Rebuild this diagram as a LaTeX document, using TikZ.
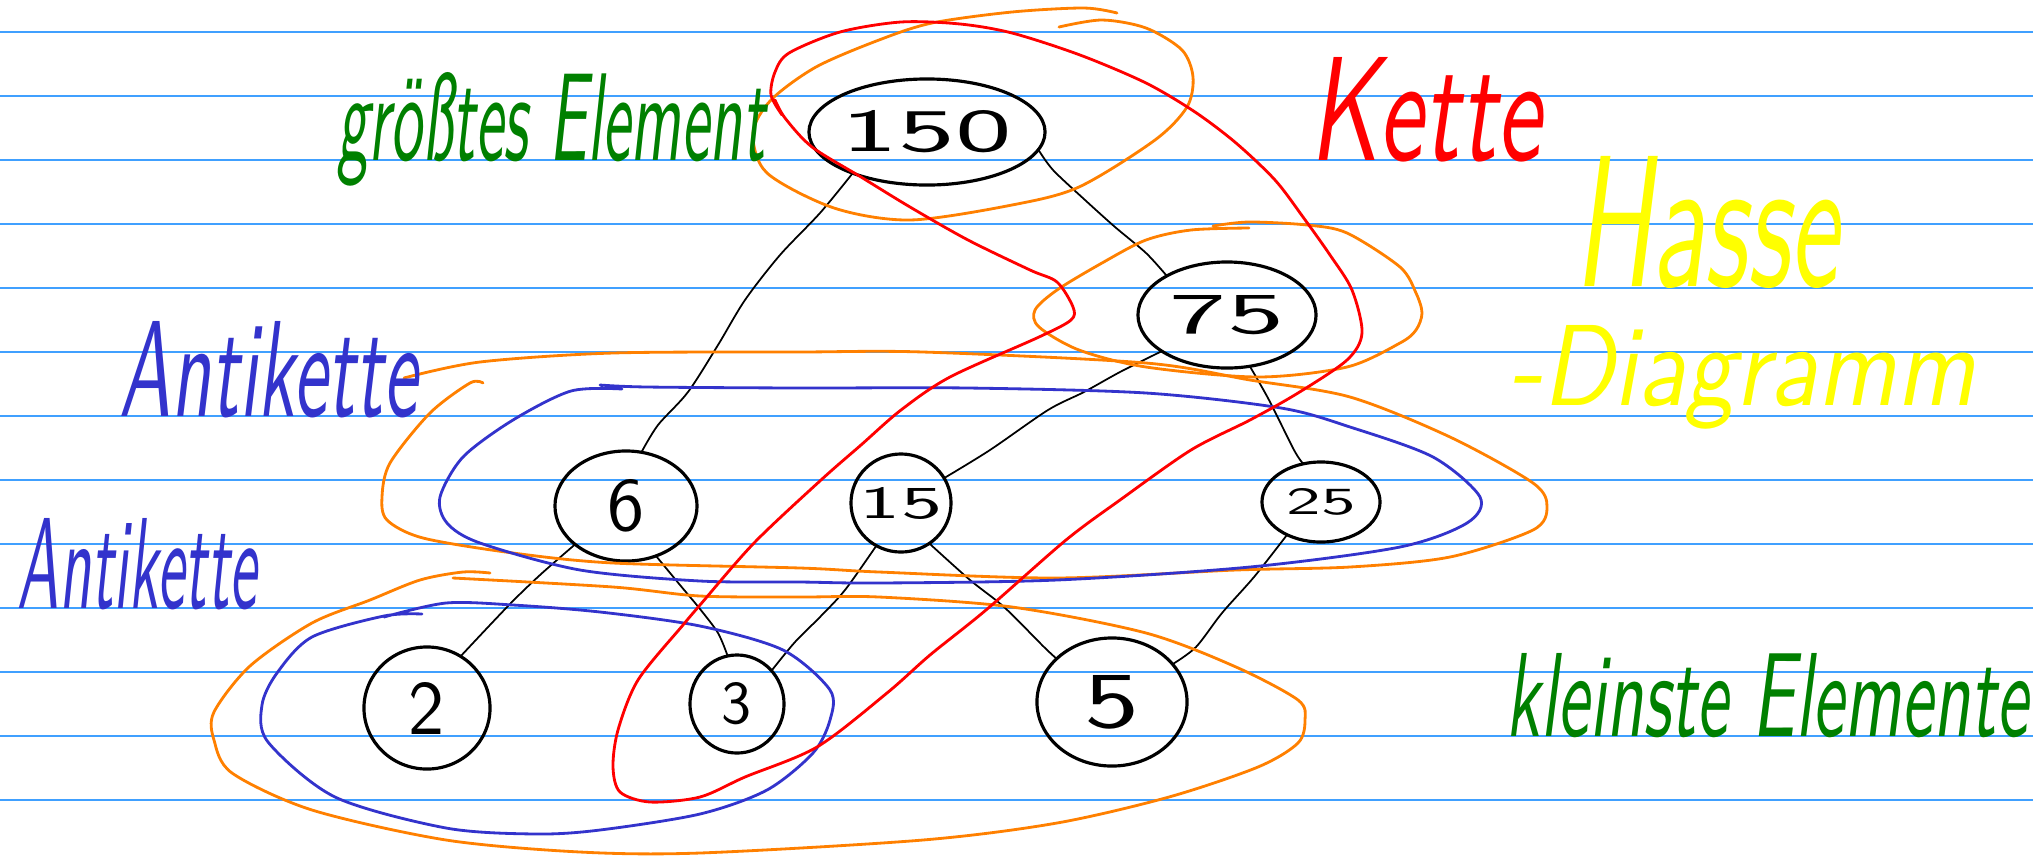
\documentclass[tikz,border=0pt]{standalone}
\usepackage{fontspec}
\usepackage{graphicx}
\usetikzlibrary{shapes.geometric}
\definecolor{rulecol}{RGB}{64,160,255}
\definecolor{inkblue}{RGB}{51,51,204}
\definecolor{inkgreen}{RGB}{0,128,0}
\definecolor{inkred}{RGB}{255,0,0}
\definecolor{inkorange}{RGB}{255,128,0}
\definecolor{inkyellow}{RGB}{255,255,0}
% handwritten-looking label stretched to a given width and height
\newcommand{\hw}[3]{\resizebox{#1}{#2}{\sffamily\slshape #3}}
% centred number inside a vertex, not widening the ellipse
\newcommand{\vnum}[3]{\makebox[0pt]{\resizebox{#1}{#2}{\sffamily #3}}}
\begin{document}
\begin{tikzpicture}[x=0.01cm,y=-0.01cm,
  rule/.style={rulecol, line width=0.5pt},
  vtx/.style={draw, ellipse, line width=0.9pt, inner sep=0pt, outer sep=0pt},
  edge/.style={line width=0.5pt, line cap=round},
  ink/.style={line width=0.8pt, line cap=round, line join=round},
  txt/.style={inner sep=0pt, outer sep=0pt, anchor=base west}]
\fill[white] (0,0) rectangle (2033,857);
\useasboundingbox (0,0) rectangle (2033,857);

% ruled paper
\foreach \k in {0,...,12} {
  \draw[rule] (0,{32.3+64*\k}) -- (2033,{32.3+64*\k});
}

% vertices of the Hasse diagram
\node[vtx, minimum width=2.36cm, minimum height=1.06cm] (n150) at (927,132) {\vnum{1.70cm}{0.41cm}{150}};
\node[vtx, minimum width=1.78cm, minimum height=1.06cm] (n75) at (1227,315) {\vnum{1.14cm}{0.38cm}{75}};
\node[vtx, minimum width=1.42cm, minimum height=1.10cm] (n6) at (626,506) {\vnum{0.37cm}{0.51cm}{6}};
\node[vtx, minimum width=1.00cm, minimum height=0.98cm] (n15) at (901,503) {\vnum{0.82cm}{0.31cm}{15}};
\node[vtx, minimum width=1.18cm, minimum height=0.80cm] (n25) at (1321,502) {\vnum{0.69cm}{0.26cm}{25}};
\node[vtx, minimum width=1.26cm, minimum height=1.22cm] (n2) at (427,708) {\vnum{0.36cm}{0.52cm}{2}};
\node[vtx, minimum width=0.94cm, minimum height=0.98cm] (n3) at (737,704) {\vnum{0.30cm}{0.41cm}{3}};
\node[vtx, minimum width=1.50cm, minimum height=1.28cm] (n5) at (1112,702) {\vnum{0.55cm}{0.52cm}{5}};

% cover relations
\draw[edge] plot[smooth] coordinates {(n150.209) (820,213) (780,255) (745,300) (718,345) (688,392) (658,425) (n6.74)};
\draw[edge] plot[smooth] coordinates {(n150.351) (1053,170) (1085,200) (1115,227) (1146,253) (n75.147)};
\draw[edge] plot[smooth] coordinates {(n75.209) (1120,372) (1084,392) (1048,410) (990,450) (n15.30)};
\draw[edge] plot[smooth] coordinates {(n75.294) (1269,400) (1294,450) (n25.115)};
\draw[edge] plot[smooth] coordinates {(n6.217) (540,575) (509,605) (n2.57)};
\draw[edge] plot[smooth] coordinates {(n6.301) (680,585) (700,609) (718,633) (n3.101)};
\draw[edge] plot[smooth] coordinates {(n15.240) (845,590) (820,617) (795,642) (n3.44)};
\draw[edge] plot[smooth] coordinates {(n15.305) (970,580) (1004,607) (1044,647) (n5.142)};
\draw[edge] plot[smooth] coordinates {(n25.224) (1254,577) (1222,613) (1196,647) (n5.32)};

% orange rings
\draw[ink, inkorange] plot[smooth] coordinates {(1059,27) (1102,20) (1146,28) (1182,50) (1193,77) (1187,107) (1155,140) (1079,187) (1012,205) (910,220) (834,208) (767,173) (753,133) (771,100) (816,67) (879,40) (932,23) (1012,12) (1084,8) (1117,13)};
\draw[ink, inkorange] plot[smooth] coordinates {(1249,228) (1191,230) (1146,240) (1102,263) (1057,290) (1035,310) (1039,327) (1079,350) (1146,367) (1258,377) (1347,367) (1400,343) (1416,330) (1422,313) (1416,293) (1400,267) (1347,233) (1307,225) (1249,222) (1213,226)};
\draw[ink, inkorange] plot[smooth] coordinates {(483,383) (470,383) (430,413) (390,463) (382,497) (387,520) (423,538) (513,553) (613,563) (800,568) (879,572) (1057,578) (1236,570) (1350,567) (1450,557) (1533,530) (1547,507) (1533,483) (1450,437) (1350,397) (1250,380) (1146,363) (923,352) (800,352) (613,353) (480,362) (404,378)};
\draw[ink, inkorange] plot[smooth] coordinates {(490,573) (463,572) (420,580) (370,600) (312,623) (250,666) (214,712) (214,740) (232,773) (312,810) (446,840) (580,852) (700,853) (923,840) (1057,823) (1169,797) (1258,767) (1298,743) (1305,720) (1298,700) (1236,667) (1146,633) (1012,607) (879,597) (800,597) (700,596) (613,587) (453,578)};

% blue rings
\draw[ink, inkblue] plot[smooth] coordinates {(600,385) (647,387) (800,388) (968,388) (1146,393) (1281,408) (1350,427) (1433,457) (1480,497) (1467,523) (1400,547) (1250,567) (1057,580) (879,583) (800,582) (700,581) (580,570) (480,543) (447,523) (440,497) (463,457) (513,420) (571,391) (622,389)};
\draw[ink, inkblue] plot[smooth] coordinates {(384,617) (446,603) (513,605) (600,612) (700,626) (783,650) (830,690) (830,720) (813,753) (767,790) (700,814) (600,830) (536,834) (446,828) (335,797) (268,742) (262,705) (277,673) (312,637) (384,616) (422,614)};

% red chain
\draw[ink, inkred] plot[smooth] coordinates {(782,115) (771,95) (775,72) (789,53) (840,32) (901,22) (960,24) (1012,33) (1080,55) (1146,83) (1195,112) (1236,143) (1275,180) (1303,217) (1330,255) (1352,290) (1362,333) (1347,360) (1298,393) (1250,420) (1191,450) (1120,500) (1066,540) (986,610) (930,655) (887,693) (817,747) (745,777) (700,797) (650,802) (620,792) (613,767) (618,730) (638,680) (683,625) (700,605) (754,543) (821,480) (861,445) (901,410) (950,377) (1039,337) (1071,320) (1073,307) (1057,282) (1030,270) (968,240) (910,207) (861,177) (812,147) (785,118) (775,100)};

% annotations
\node[txt, inkgreen] (tmax) at (337,160) {\hw{4.28cm}{0.88cm}{größtes Element}};
\node[txt, inkred] (tkette) at (1309,160) {\hw{2.32cm}{1.03cm}{Kette}};
\node[txt, inkyellow] (thasse) at (1574,286) {\hw{2.64cm}{1.30cm}{Hasse}};
\node[txt, inkyellow] (tdiag) at (1509,405) {\hw{4.66cm}{0.80cm}{-Diagramm}};
\node[txt, inkblue] (tanti1) at (120,416) {\hw{2.97cm}{0.95cm}{Antikette}};
\node[txt, inkblue] (tanti2) at (18,608) {\hw{2.39cm}{0.90cm}{Antikette}};
\node[txt, inkgreen] (tmin) at (1505,736) {\hw{5.23cm}{0.83cm}{kleinste Elemente}};
\end{tikzpicture}
\end{document}
